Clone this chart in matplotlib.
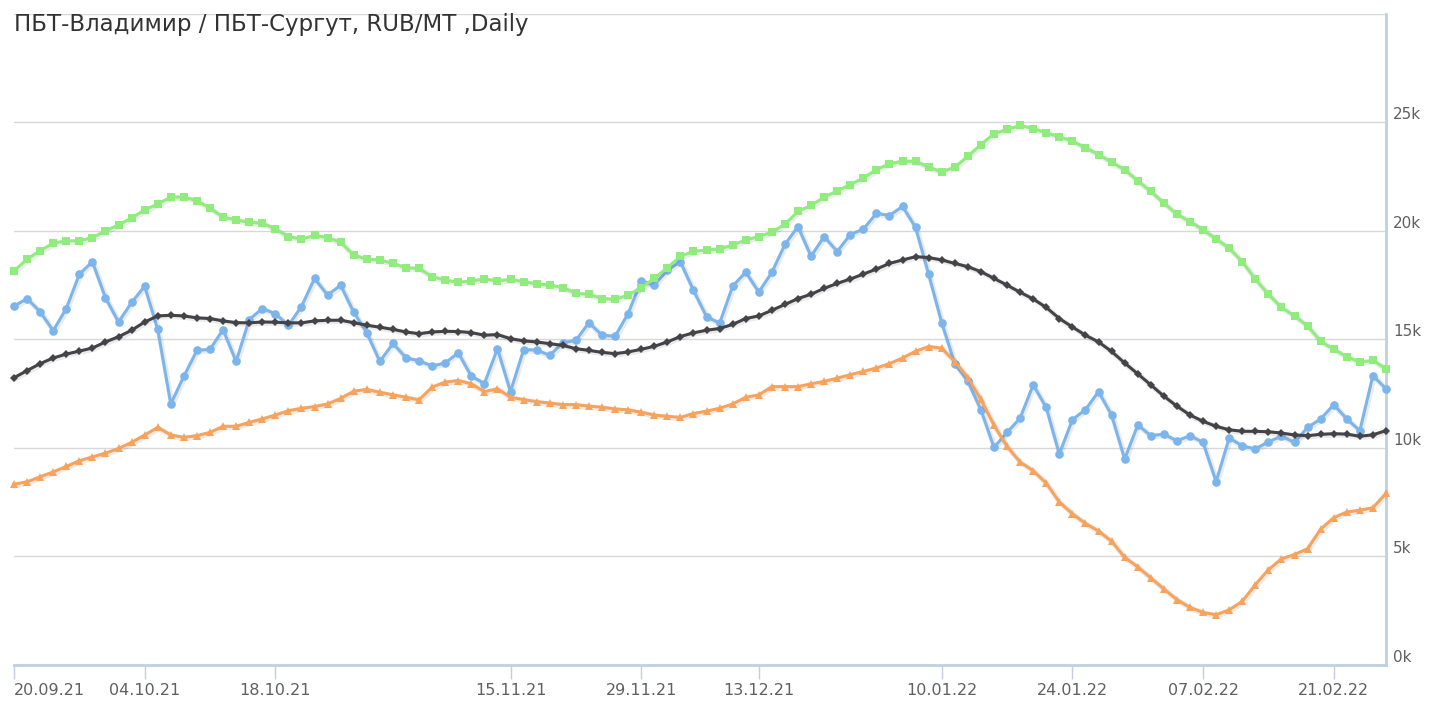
import numpy as np
import matplotlib
matplotlib.use("Agg")
import matplotlib.pyplot as plt
import matplotlib.patheffects as pe

title = "ПБТ-Владимир / ПБТ-Сургут, RUB/MT ,Daily"

# trading-day index -> label
tick_idx = [0, 10, 20, 38, 48, 57, 71, 81, 91, 101]
tick_labels = ["20.09.21", "04.10.21", "18.10.21", "15.11.21", "29.11.21",
               "13.12.21", "10.01.22", "24.01.22", "07.02.22", "21.02.22"]

blue = [16530, 16880, 16270, 15400, 16420, 18000, 18580, 16920, 15800, 16700,
        17450, 15460, 12020, 13300, 14490, 14540, 15450, 13980, 15910, 16420,
        16180, 15650, 16510, 17810, 17040, 17500, 16250, 15310, 13980, 14810,
        14150, 14010, 13770, 13910, 14380, 13300, 12960, 14570, 12590, 14520,
        14510, 14260, 14850, 14950, 15770, 15190, 15140, 16190, 17690, 17500,
        18190, 18580, 17260, 16050, 15740, 17450, 18100, 17180, 18090, 19380,
        20200, 18830, 19740, 19050, 19830, 20080, 20810, 20710, 21130, 20160,
        18000, 15770, 13880, 13060, 11750, 10020, 10710, 11370, 12900, 11860,
        9710, 11300, 11760, 12590, 11510, 9480, 11050, 10560, 10630, 10320,
        10560, 10250, 8440, 10450, 10090, 9940, 10280, 10530, 10250, 10940,
        11330, 11990, 11330, 10790, 13330, 12720]

black = [13230, 13560, 13880, 14140, 14320, 14460, 14600, 14880, 15120, 15420,
         15800, 16080, 16110, 16080, 15990, 15960, 15850, 15770, 15760, 15800,
         15790, 15760, 15760, 15850, 15880, 15880, 15770, 15650, 15560, 15460,
         15340, 15260, 15340, 15370, 15360, 15310, 15190, 15220, 15030, 14930,
         14880, 14800, 14720, 14570, 14490, 14400, 14340, 14420, 14540, 14680,
         14880, 15130, 15300, 15420, 15500, 15690, 15960, 16080, 16340, 16610,
         16880, 17080, 17350, 17580, 17780, 18010, 18240, 18500, 18660, 18810,
         18770, 18660, 18500, 18350, 18120, 17810, 17500, 17170, 16860, 16470,
         15960, 15570, 15190, 14880, 14440, 13910, 13410, 12900, 12380, 11920,
         11510, 11220, 10990, 10830, 10760, 10760, 10740, 10680, 10590, 10560,
         10620, 10650, 10630, 10530, 10600, 10790]

green = [18150, 18700, 19090, 19430, 19540, 19540, 19690, 20000, 20280, 20590,
         20970, 21240, 21560, 21560, 21390, 21050, 20630, 20510, 20390, 20360,
         20090, 19740, 19620, 19790, 19690, 19470, 18890, 18690, 18660, 18500,
         18300, 18270, 17890, 17730, 17630, 17690, 17780, 17700, 17760, 17660,
         17560, 17500, 17390, 17120, 17080, 16880, 16840, 17040, 17380, 17810,
         18300, 18830, 19060, 19120, 19170, 19350, 19580, 19740, 19940, 20310,
         20900, 21180, 21550, 21850, 22130, 22440, 22820, 23100, 23210, 23210,
         22940, 22720, 22940, 23440, 23980, 24480, 24680, 24860, 24720, 24520,
         24340, 24140, 23830, 23520, 23170, 22820, 22310, 21820, 21280, 20770,
         20430, 20050, 19630, 19200, 18580, 17780, 17080, 16470, 16080, 15620,
         14910, 14540, 14200, 13950, 14030, 13640]

orange = [8320, 8430, 8660, 8890, 9140, 9400, 9580, 9750, 9970, 10250,
          10590, 10940, 10590, 10480, 10560, 10710, 10990, 10990, 11170, 11330,
          11510, 11710, 11820, 11900, 12020, 12280, 12610, 12690, 12560, 12440,
          12330, 12210, 12800, 13030, 13100, 12950, 12590, 12720, 12330, 12220,
          12130, 12060, 11990, 11990, 11920, 11870, 11790, 11750, 11640, 11510,
          11450, 11400, 11580, 11690, 11820, 12020, 12330, 12440, 12820, 12820,
          12820, 12950, 13060, 13210, 13370, 13520, 13680, 13880, 14140, 14450,
          14670, 14590, 13970, 13240, 12230, 11040, 10060, 9340, 8940, 8370,
          7500, 6960, 6510, 6160, 5690, 4950, 4510, 4000, 3490, 3000,
          2640, 2410, 2300, 2530, 2920, 3690, 4380, 4880, 5080, 5350,
          6250, 6780, 7040, 7120, 7240, 7900]

W, H = 1430, 707
fig = plt.figure(figsize=(W / 100, H / 100), dpi=100)
ax = fig.add_axes([14 / W, 1 - 664.7 / H, (1386 - 14) / W, (664.7 - 14) / H])

shadow = [pe.SimpleLineShadow(offset=(0.8, -0.8), shadow_color="k", alpha=0.08, linewidth=4), pe.Normal()]

series = [
    (blue, "#7cb5ec", "o", 6.2),
    (black, "#434348", "D", 3.8),
    (green, "#90ed7d", "s", 5.6),
    (orange, "#f7a35c", "^", 5.6),
]
z = 3
for vals, col, mk, ms in series:
    x = np.arange(len(vals))
    ax.plot(x, vals, color=col, lw=2.2, clip_on=False, path_effects=shadow, zorder=z)
    ax.plot(x, vals, ls="none", color=col, marker=mk, markersize=ms,
            markeredgewidth=0, clip_on=False, zorder=z + 0.5)
    z += 1

ax.set_xlim(0, 105)
ax.set_ylim(0, 30000)

ax.set_yticks(np.arange(0, 30001, 5000))
ax.set_yticklabels([f"{v // 1000}k" if v < 30000 else "" for v in range(0, 30001, 5000)])
ax.yaxis.tick_right()
ax.tick_params(axis="y", length=0, pad=5, labelsize=11, labelcolor="#606060")
for lab in ax.get_yticklabels():
    lab.set_verticalalignment("bottom")
ax.grid(axis="y", color="#d8d8d8", lw=1)
ax.set_axisbelow(True)

ax.set_xticks(tick_idx)
ax.set_xticklabels(tick_labels)
ax.tick_params(axis="x", length=10, width=1, color="#c0d0e0", labelsize=11.5,
               labelcolor="#606060", pad=3)
labs = ax.get_xticklabels()
labs[0].set_horizontalalignment("left")

for s in ["left", "top"]:
    ax.spines[s].set_visible(False)
for s in ["right", "bottom"]:
    ax.spines[s].set_color("#c0d0e0")
    ax.spines[s].set_linewidth(2)

fig.text(14 / W, 1 - 24 / H, title, ha="left", va="center", fontsize=16.5, color="#333333")

fig.savefig("out.png", dpi=100)
